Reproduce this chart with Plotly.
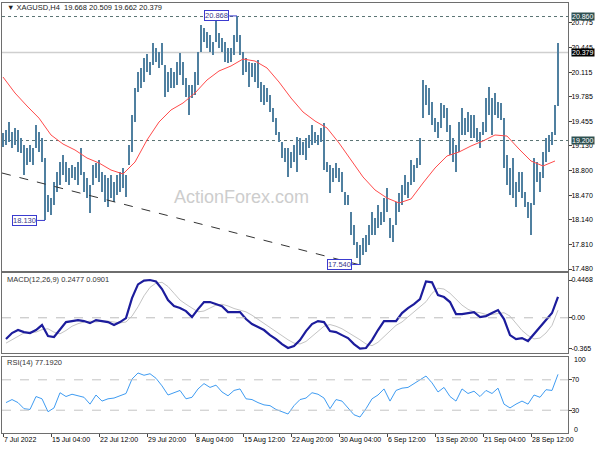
import plotly.graph_objects as go

# ---------------- data ----------------
highs = [
    19.30, 19.34, 19.45, 19.31, 19.37, 19.34, 19.23, 19.14, 19.10, 19.14,
    19.10, 19.41, 19.31, 19.23, 18.97, 18.47, 18.43, 18.65, 18.78, 18.91,
    19.01, 18.91, 18.83, 18.87, 18.85, 18.91, 19.10, 18.78, 18.70, 18.60,
    18.87, 18.90, 18.94, 18.78, 18.74, 18.70, 18.74, 18.65, 18.74, 18.78,
    18.83, 18.74, 19.14, 19.54, 19.90, 20.12, 20.17, 20.31, 20.36, 20.25,
    20.51, 20.44, 20.39, 20.51, 20.21, 20.12, 20.17, 20.12, 20.25, 20.37,
    20.25, 20.04, 19.94, 19.94, 20.12, 20.39, 20.75, 20.71, 20.65, 20.61,
    20.52, 20.84, 20.64, 20.57, 20.52, 20.44, 20.44, 20.61, 20.868, 20.61,
    20.39, 20.31, 20.25, 20.24, 20.24, 20.28, 19.98, 19.94, 19.90, 19.81,
    19.64, 19.50, 19.31, 19.18, 19.10, 19.10, 19.05, 19.14, 19.25, 19.23,
    19.18, 19.23, 19.27, 19.41, 19.31, 19.27, 19.37, 19.43, 18.91, 18.87,
    18.83, 18.90, 18.83, 18.78, 18.51, 18.47, 18.24, 18.07, 17.84, 17.80,
    17.90, 17.94, 18.07, 18.24, 18.16, 18.34, 18.24, 18.43, 18.56, 18.16,
    18.07, 18.38, 18.50, 18.60, 18.74, 18.65, 18.94, 18.87, 18.97, 19.23,
    20.01, 19.94, 19.90, 19.72, 19.50, 19.45, 19.70, 19.68, 19.64, 19.41,
    19.23, 19.14, 19.45, 19.64, 19.50, 19.58, 19.54, 19.54, 19.37, 19.31,
    19.45, 19.77, 19.92, 19.77, 19.84, 19.72, 19.70, 19.50, 19.01, 18.83,
    18.97, 18.65, 18.78, 18.78, 18.51, 18.38, 18.36, 18.97, 18.91, 18.78,
    19.05, 19.23, 19.27, 19.31, 19.68, 20.509,
]
lows = [
    19.11, 19.14, 19.18, 19.10, 19.14, 19.05, 19.03, 18.74, 18.87, 18.91,
    18.87, 19.10, 19.05, 18.91, 18.13, 18.24, 18.20, 18.34, 18.51, 18.60,
    18.74, 18.65, 18.60, 18.70, 18.67, 18.60, 18.74, 18.51, 18.43, 18.23,
    18.60, 18.70, 18.65, 18.51, 18.38, 18.31, 18.43, 18.38, 18.47, 18.51,
    18.56, 18.44, 18.87, 19.05, 19.45, 19.85, 19.90, 19.98, 20.12, 20.08,
    20.21, 20.25, 20.17, 20.21, 19.78, 19.85, 19.90, 19.90, 19.94, 20.08,
    19.94, 19.78, 19.54, 19.77, 19.81, 19.94, 20.39, 20.52, 20.44, 20.39,
    20.35, 20.52, 20.44, 20.39, 20.25, 20.24, 20.25, 20.35, 20.52, 20.35,
    20.08, 20.12, 19.92, 20.05, 19.98, 19.90, 19.72, 19.68, 19.72, 19.58,
    19.45, 19.27, 19.18, 18.97, 18.91, 18.71, 18.83, 18.91, 18.78, 19.01,
    19.01, 18.94, 19.10, 19.14, 19.17, 19.14, 19.18, 18.81, 18.78, 18.50,
    18.65, 18.70, 18.65, 18.51, 18.34, 18.34, 17.94, 17.80, 17.63, 17.54,
    17.67, 17.71, 17.80, 17.94, 17.94, 18.03, 18.07, 18.11, 18.24, 17.90,
    17.84, 18.07, 18.24, 18.34, 18.47, 18.43, 18.60, 18.65, 18.83, 18.87,
    19.50, 19.68, 19.54, 19.41, 19.31, 19.23, 19.37, 19.50, 19.31, 19.01,
    18.91, 18.78, 19.05, 19.27, 19.27, 19.31, 19.23, 19.23, 19.18, 19.10,
    19.27, 19.31, 19.54, 19.27, 19.54, 19.50, 19.47, 18.83, 18.60, 18.47,
    18.43, 18.31, 18.51, 18.43, 18.31, 18.16, 17.935, 18.34, 18.65, 18.51,
    18.70, 18.91, 19.05, 19.14, 19.27, 19.662,
]
# moving average, read every 4th bar
ma_values = [
    20.05, 19.836, 19.662, 19.50, 19.274, 19.153, 19.073, 18.966, 18.899, 18.805, 18.752,
    18.912, 19.207, 19.448, 19.609, 19.702, 19.836, 20.01, 20.131, 20.198, 20.291,
    20.264, 20.171, 19.983, 19.769, 19.582, 19.461, 19.368, 19.167, 18.939, 18.712,
    18.538, 18.43, 18.364, 18.417, 18.631, 18.832, 18.993, 19.046, 19.127, 19.194,
    19.274, 19.26, 19.086, 18.926, 18.859, 18.926,
]
# indicators, read every 2nd bar
macd_main = [
    -0.252, -0.181, -0.145, -0.169, -0.181, -0.145, -0.086, -0.216, -0.228, -0.134,
    -0.051, -0.039, -0.027, -0.039, -0.063, -0.027, -0.039, -0.051, -0.086, -0.051,
    -0.004, 0.233, 0.395, 0.44, 0.4468, 0.43, 0.34, 0.21, 0.138, 0.115,
    0.079, 0.008, 0.103, 0.186, 0.186, 0.162, 0.138, 0.067, 0.067, 0.067,
    -0.015, -0.074, -0.11, -0.145, -0.205, -0.252, -0.311, -0.358, -0.335, -0.264,
    -0.157, -0.074, -0.039, -0.051, -0.157, -0.169, -0.205, -0.24, -0.311, -0.365,
    -0.358, -0.264, -0.145, -0.039, -0.039, -0.039, 0.056, 0.115, 0.162, 0.221,
    0.43, 0.42, 0.268, 0.245, 0.186, 0.044, 0.044, 0.056, 0.067, 0.008,
    0.02, 0.056, 0.091, -0.015, -0.205, -0.252, -0.24, -0.275, -0.193, -0.122,
    -0.027, 0.056, 0.2477,
]
macd_signal = [
    -0.30, -0.26, -0.21, -0.18, -0.17, -0.17, -0.14, -0.13, -0.17, -0.19,
    -0.15, -0.10, -0.07, -0.05, -0.04, -0.05, -0.04, -0.04, -0.05, -0.06,
    -0.05, 0.02, 0.13, 0.26, 0.36, 0.41, 0.42, 0.37, 0.29, 0.21,
    0.16, 0.11, 0.07, 0.08, 0.12, 0.15, 0.16, 0.14, 0.11, 0.09,
    0.07, 0.03, -0.02, -0.07, -0.11, -0.16, -0.21, -0.26, -0.30, -0.31,
    -0.28, -0.22, -0.15, -0.10, -0.08, -0.10, -0.13, -0.17, -0.21, -0.26,
    -0.31, -0.33, -0.29, -0.22, -0.15, -0.09, -0.05, 0.01, 0.07, 0.12,
    0.19, 0.29, 0.35, 0.34, 0.29, 0.22, 0.15, 0.10, 0.07, 0.06,
    0.04, 0.04, 0.05, 0.06, 0.02, -0.07, -0.15, -0.21, -0.25, -0.24,
    -0.18, -0.09, 0.0901,
]
rsi_values = [
    40, 44, 40, 32, 31, 48, 45, 28, 33, 53,
    48, 51, 49, 47, 38, 50, 42, 45, 46, 49,
    52, 71, 79, 76, 78, 72, 62, 50, 53, 56,
    45, 47, 58, 65, 60, 63, 54, 49, 56, 58,
    45, 44, 40, 37, 36, 31, 28, 25, 36, 44,
    46, 53, 51, 46, 32, 44, 42, 33, 24, 21,
    32, 45, 50, 58, 42, 56, 59, 60, 65, 70,
    75, 66, 54, 60, 48, 42, 58, 52, 55, 48,
    56, 52, 59, 38, 33, 38, 42, 38, 50, 47,
    57, 56, 77.192,
]
date_labels = ["7 Jul 2022", "15 Jul 04:00", "22 Jul 12:00", "29 Jul 20:00",
               "8 Aug 04:00", "15 Aug 12:00", "22 Aug 20:00", "30 Aug 04:00",
               "6 Sep 12:00", "13 Sep 20:00", "21 Sep 04:00", "28 Sep 12:00"]
price_ticks = [20.775, 20.445, 20.115, 19.785, 19.455, 19.130, 18.800,
               18.470, 18.140, 17.810, 17.480]
macd_ticks = [0.4468, 0.0, -0.365]
macd_tick_text = ["0.4468", "0.00", "-0.365"]
rsi_levels = [70, 30]
level_high = 20.860
level_support = 19.200
last_ohlc = [19.668, 20.509, 19.662, 20.379]
swing_bars = [14, 78, 119]
swing_prices = [18.130, 20.868, 17.540]
trend_bars = [-0.33, 118.5]
trend_prices = [18.765, 17.540]

# ---------------- figure ----------------
n = len(highs)
bar_idx = list(range(n))
ma_idx = list(range(0, n, 4))[:len(ma_values)]
ind_idx = list(range(1, n, 2))[:len(macd_main)]

FONT = "Liberation Sans, Arial, sans-serif"
BAR_COLOR = "#5080a0"
AX = "#6e6e6e"

fig = go.Figure()
fig.add_trace(go.Bar(x=bar_idx, y=[h - l for h, l in zip(highs, lows)], base=lows,
                     width=0.5, marker=dict(color=BAR_COLOR, line=dict(width=0)),
                     xaxis="x", yaxis="y", hoverinfo="skip"))
fig.add_trace(go.Scatter(x=ma_idx, y=ma_values, mode="lines",
                         line=dict(color="#ff4b4b", width=1), xaxis="x", yaxis="y"))
fig.add_trace(go.Scatter(x=ind_idx, y=macd_signal, mode="lines",
                         line=dict(color="#c4c4c4", width=1), xaxis="x2", yaxis="y2"))
fig.add_trace(go.Scatter(x=ind_idx, y=macd_main, mode="lines",
                         line=dict(color="#1c1c9c", width=2.2), xaxis="x2", yaxis="y2"))
fig.add_trace(go.Scatter(x=ind_idx[:len(rsi_values)], y=rsi_values, mode="lines",
                         line=dict(color="#3f9cf2", width=1), xaxis="x3", yaxis="y3"))

xr = [-0.333, 188.333]
common_x = dict(range=xr, showgrid=False, zeroline=False, showline=True, mirror=True,
                linecolor=AX, linewidth=1, fixedrange=True, automargin=False)
tick_font = dict(family=FONT, size=7, color="#000000")
common_y = dict(side="right", showgrid=False, zeroline=False, showline=True, mirror=True,
                linecolor=AX, linewidth=1, tickmode="array", ticks="outside", ticklen=3,
                tickcolor="#444444", tickfont=tick_font, fixedrange=True,
                automargin=False, ticklabelstandoff=-2)

shapes = []
shapes.append(dict(type="line", xref="paper", yref="y", x0=0, x1=1,
                   y0=last_ohlc[3], y1=last_ohlc[3], layer="below",
                   line=dict(color="#cfcfcf", width=1.5)))
for lv in (level_high, level_support):
    shapes.append(dict(type="line", xref="paper", yref="y", x0=0, x1=1, y0=lv, y1=lv,
                       layer="below", line=dict(color="#5a7373", width=1, dash="dot")))
shapes.append(dict(type="line", xref="x", yref="y", x0=trend_bars[0], y0=trend_prices[0],
                   x1=trend_bars[1], y1=trend_prices[1],
                   line=dict(color="#333333", width=1, dash="dash")))
for b, p in zip(swing_bars, swing_prices):
    shapes.append(dict(type="line", xref="x", yref="y", x0=b - 2.6, x1=b, y0=p, y1=p,
                       line=dict(color="#3b3bcf", width=1)))
shapes.append(dict(type="line", xref="paper", yref="y2", x0=0, x1=1, y0=0, y1=0,
                   line=dict(color="#bdbdbd", width=1, dash="dash")))
for lv in rsi_levels:
    shapes.append(dict(type="line", xref="paper", yref="y3", x0=0, x1=1, y0=lv, y1=lv,
                       line=dict(color="#c4c4c4", width=1, dash="dash")))

annotations = []
annotations.append(dict(xref="paper", yref="paper", x=0.005, y=0.9905, xanchor="left",
                        yanchor="middle", showarrow=False,
                        text="▼ XAGUSD,H4  " + " ".join(f"{v:.3f}" for v in last_ohlc),
                        font=dict(family=FONT, size=7.5, color="#222222")))
annotations.append(dict(xref="paper", yref="paper", x=0.005, y=0.356, xanchor="left",
                        yanchor="middle", showarrow=False,
                        text=f"MACD(12,26,9) {macd_main[-1]:.4f} {macd_signal[-1]:.4f}",
                        font=dict(family=FONT, size=7.5, color="#333333")))
annotations.append(dict(xref="paper", yref="paper", x=0.005, y=0.165, xanchor="left",
                        yanchor="middle", showarrow=False,
                        text=f"RSI(14) {rsi_values[-1]:.4f}",
                        font=dict(family=FONT, size=7.5, color="#333333")))
annotations.append(dict(xref="paper", yref="paper", x=0.424, y=0.549, xanchor="center",
                        yanchor="middle", showarrow=False, text="ActionForex.com",
                        font=dict(family=FONT, size=18, color="#cdcdcd")))
for b, p in zip(swing_bars, swing_prices):
    annotations.append(dict(xref="x", yref="y", x=b - 2.6, y=p, xanchor="right",
                            yanchor="middle", showarrow=False, text=f"{p:.3f}",
                            bgcolor="#ffffff", bordercolor="#3b3bcf", borderwidth=1,
                            borderpad=0, font=dict(family=FONT, size=7.5, color="#3a3a8c")))
for p, bg in ((level_high, "#2e5050"), (last_ohlc[3], "#000000"), (level_support, "#2e5050")):
    annotations.append(dict(xref="paper", yref="y", x=1, y=p, xanchor="left",
                            yanchor="middle", xshift=3, showarrow=False, text=f"{p:.3f}",
                            bgcolor=bg, borderpad=0,
                            font=dict(family=FONT, size=7, color="#ffffff")))
for txt, yp in (("100", 0.1698), ("0", 0.0093)):
    annotations.append(dict(xref="paper", yref="paper", x=1, y=yp, xanchor="left",
                            yanchor="middle", xshift=4, showarrow=False, text=txt,
                            font=tick_font))

fig.update_layout(
    template="none",
    width=600, height=450,
    margin=dict(l=2, r=32, t=3, b=17, pad=0),
    paper_bgcolor="#ffffff", plot_bgcolor="#ffffff",
    showlegend=False, hovermode=False, bargap=0,
    font=dict(family=FONT, size=7, color="#000000"),
    xaxis=dict(**common_x, domain=[0, 1], anchor="y", showticklabels=False, ticks=""),
    xaxis2=dict(**common_x, domain=[0, 1], anchor="y2", matches="x",
                showticklabels=False, ticks=""),
    xaxis3=dict(**common_x, domain=[0, 1], anchor="y3", matches="x",
                tickmode="array", tickvals=[16 * k for k in range(len(date_labels))],
                ticktext=date_labels, ticks="outside", ticklen=3, tickcolor="#444444",
                tickangle=0, ticklabelposition="outside right", tickfont=tick_font),
    yaxis=dict(**common_y, domain=[0.3767, 1.0], range=[17.453, 21.041], anchor="x",
               tickvals=price_ticks, ticktext=[f"{v:.3f}" for v in price_ticks]),
    yaxis2=dict(**common_y, domain=[0.186, 0.3721], range=[-0.417, 0.53], anchor="x2",
                tickvals=macd_ticks, ticktext=macd_tick_text),
    yaxis3=dict(**common_y, domain=[0.0, 0.1767], range=[0, 100], anchor="x3",
                tickvals=rsi_levels, ticktext=[str(v) for v in rsi_levels]),
    shapes=shapes, annotations=annotations,
)

fig.write_html("out.html", config={"displayModeBar": False},
               post_script="document.body.style.margin='0px';"
                           "document.body.style.overflow='hidden';")
